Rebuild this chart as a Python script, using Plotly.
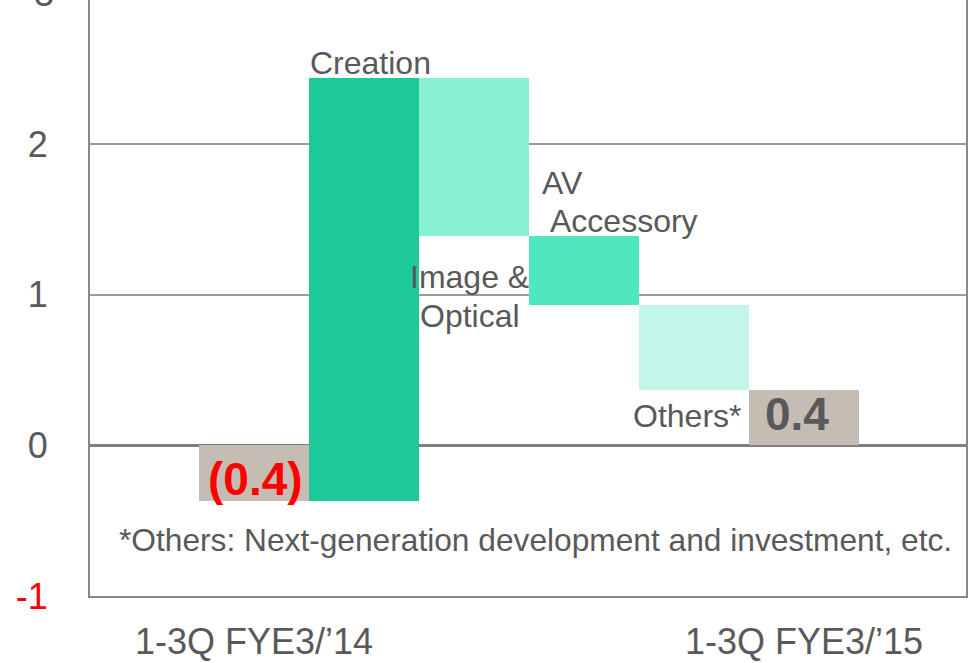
import plotly.graph_objects as go

# ---- data ----
categories = ["1-3Q FYE3/’14", "Creation", "Image & Optical", "AV Accessory", "Others*", "1-3Q FYE3/’15"]
changes = [-0.37, 2.81, -1.05, -0.46, -0.56]   # start value, then segment changes
end_value = 0.37
bar_colors = ["#c5bdb3", "#1dc999", "#88f0d3", "#50e6c0", "#c3f6e8", "#c5bdb3"]
tick_positions = [0, 5]
tick_labels = ["1-3Q FYE3/’14", "1-3Q FYE3/’15"]
y_tick_vals = [-1, 0, 1, 2]
y_tick_text = ['<span style="color:#ff0000">-1</span>', "0", "1", "2"]

# waterfall geometry from data
bases, heights = [], []
level = 0.0
for i, c in enumerate(changes):
    if i == 0:
        bases.append(0.0)
        heights.append(c)
        level = c
    else:
        bases.append(level)
        heights.append(c)
        level += c
bases.append(0.0)
heights.append(end_value)

x_idx = list(range(len(categories)))

FONT = "Liberation Sans, Arial, sans-serif"
GRAY = "#595959"

fig = go.Figure()
fig.add_trace(go.Bar(
    x=x_idx, y=heights, base=bases, width=1.0,
    marker=dict(color=bar_colors, line=dict(width=0)),
    hoverinfo="skip", showlegend=False,
))

ann = []
def label(text, x, y, size=32, color=GRAY, bold=False, xanchor="center"):
    t = f"<b>{text}</b>" if bold else text
    ann.append(dict(text=t, x=x, y=y, xref="x", yref="y", showarrow=False,
                    xanchor=xanchor, yanchor="middle",
                    font=dict(family=FONT, size=size, color=color)))

label("Creation", 1.055, 2.54)
label("Image &", 1.96, 1.115)
label("Optical", 1.96, 0.86)
label("AV", 2.805, 1.745)
label("Accessory", 3.364, 1.49)
label("Others*", 3.94, 0.195)
label("0.4", 4.94, 0.21, size=46, color=GRAY, bold=True)
label("(0.4)", 0.01, -0.222, size=46, color="#ff0000", bold=True)
label("*Others: Next-generation development and investment, etc.", 2.555, -0.63, size=31.7)

# top "3" tick label, partly above the visible area
ann.append(dict(text="3", x=0, xref="paper", xanchor="right", xshift=-34,
                y=(3 - (-1)) / (2.957 - (-1)), yref="paper", yanchor="middle",
                showarrow=False, font=dict(family=FONT, size=36, color=GRAY)))

fig.update_layout(
    width=977, height=663,
    margin=dict(l=90, r=11, t=0, b=67, autoexpand=False),
    paper_bgcolor="white", plot_bgcolor="white",
    bargap=0,
    annotations=ann,
    xaxis=dict(
        range=[-1.491, 6.473],
        tickvals=tick_positions, ticktext=tick_labels,
        tickfont=dict(family=FONT, size=36, color=GRAY),
        showgrid=False, zeroline=False, automargin=False,
        showline=True, linecolor="#888888", linewidth=2, mirror=False,
        ticks="", ticklabelstandoff=13,
    ),
    yaxis=dict(
        range=[-1, 2.957],
        tickvals=y_tick_vals, ticktext=y_tick_text,
        tickfont=dict(family=FONT, size=36, color=GRAY),
        showgrid=True, gridcolor="#9b9b9b", gridwidth=2, automargin=False,
        zeroline=True, zerolinecolor="#808080", zerolinewidth=3,
        showline=True, linecolor="#888888", linewidth=2, mirror=True,
        ticks="", ticklabelstandoff=33,
    ),
)

fig.write_html("out.html", config={"displayModeBar": False},
               post_script="document.body.style.margin='0';")
